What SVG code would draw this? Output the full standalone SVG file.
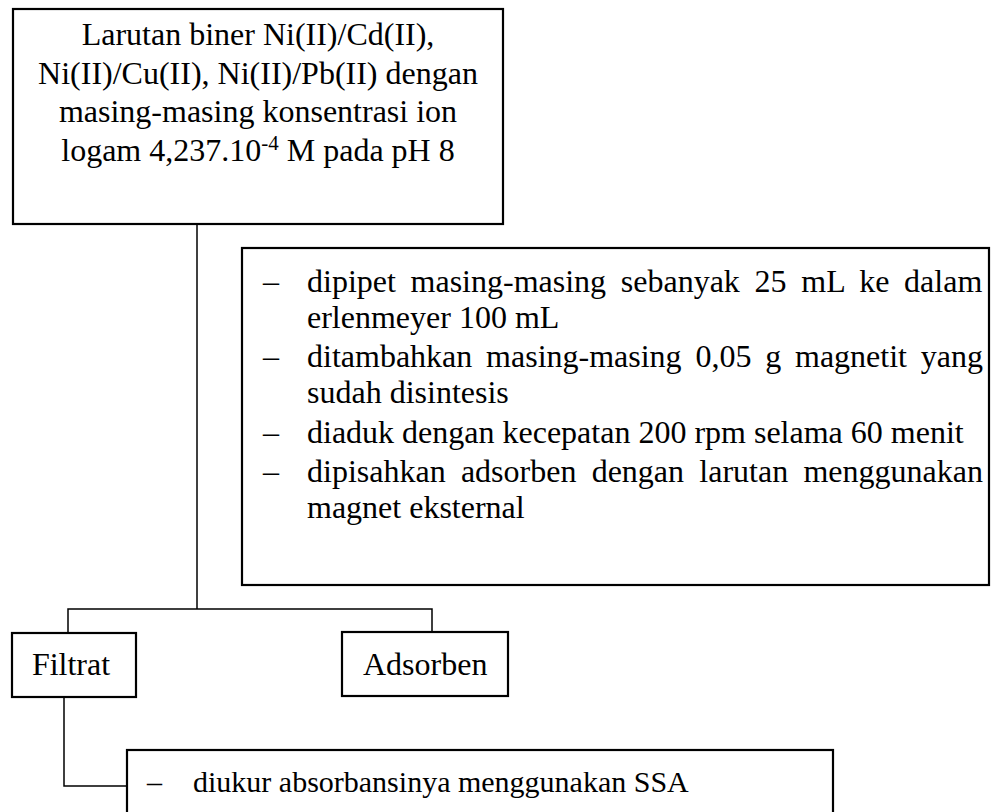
<svg xmlns="http://www.w3.org/2000/svg" width="992" height="812" viewBox="0 0 992 812">
<style>
.box{fill:#fff;stroke:#000;stroke-width:2.2}
.ln{fill:none;stroke:#000;stroke-width:1.5}
text{font-family:"Liberation Serif","Times New Roman",serif;font-size:32px;fill:#000}
.c{text-anchor:middle}
</style>
<rect width="992" height="812" fill="#fff"/>
<g id="connectors">
<line class="ln" x1="197" y1="224" x2="197" y2="609"/>
<polyline class="ln" points="68,633 68,609 432,609 432,632"/>
<polyline class="ln" points="64,697 64,786 127,786"/>
</g>
<g id="n-larutan">
<rect class="box" x="13" y="9" width="490" height="215"/>
<text class="c" x="258" y="45">Larutan biner Ni(II)/Cd(II),</text>
<text class="c" x="258" y="84">Ni(II)/Cu(II), Ni(II)/Pb(II) dengan</text>
<text class="c" x="258" y="122">masing-masing konsentrasi ion</text>
<text class="c" x="258" y="161">logam 4,237.10<tspan dy="-11" font-size="21">-4</tspan><tspan dy="11"> M pada pH 8</tspan></text>
</g>
<g id="n-proses">
<rect class="box" x="242" y="248" width="747" height="337"/>
<text x="263" y="292">–</text>
<text x="307" y="292" word-spacing="6.7">dipipet masing-masing sebanyak 25 mL ke dalam</text>
<text x="307" y="328">erlenmeyer 100 mL</text>
<text x="263" y="367">–</text>
<text x="307" y="367" word-spacing="5.8">ditambahkan masing-masing 0,05 g magnetit yang</text>
<text x="307" y="403">sudah disintesis</text>
<text x="263" y="443">–</text>
<text x="307" y="443">diaduk dengan kecepatan 200 rpm selama 60 menit</text>
<text x="263" y="482">–</text>
<text x="307" y="482" word-spacing="7.25">dipisahkan adsorben dengan larutan menggunakan</text>
<text x="307" y="518">magnet eksternal</text>
</g>
<g id="n-filtrat">
<rect class="box" x="12" y="633" width="124" height="64"/>
<text class="c" x="71" y="675">Filtrat</text>
</g>
<g id="n-adsorben">
<rect class="box" x="342" y="632" width="166" height="64"/>
<text x="363" y="675">Adsorben</text>
</g>
<g id="n-ukur">
<rect class="box" x="127" y="750" width="706" height="80"/>
<text x="147" y="792" style="font-size:30px">–</text>
<text x="193" y="792" style="font-size:30px">diukur absorbansinya menggunakan SSA</text>
</g>
</svg>
